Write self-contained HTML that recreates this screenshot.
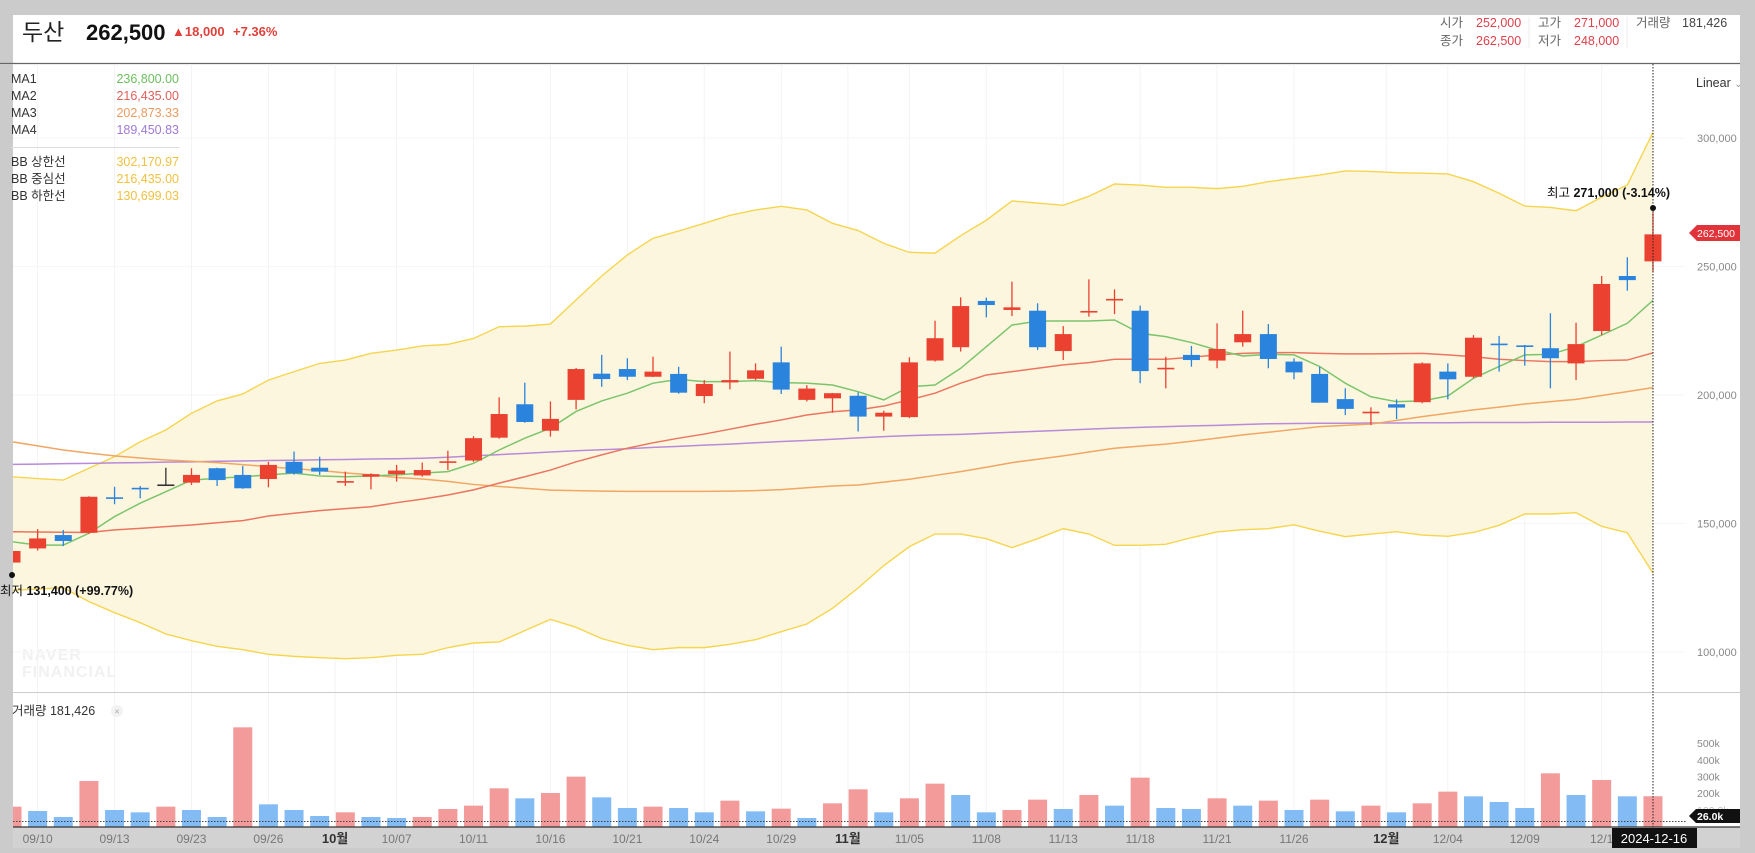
<!DOCTYPE html>
<html><head><meta charset="utf-8">
<style>
html,body{margin:0;padding:0;background:#cbcbcb;}
body{width:1755px;height:848px;overflow:hidden;font-family:"Liberation Sans","Noto Sans CJK KR",sans-serif;}
svg text{font-family:"Liberation Sans","Noto Sans CJK KR",sans-serif;}
</style></head>
<body>
<svg id="chart" width="1755" height="848" viewBox="0 0 1755 848" xmlns="http://www.w3.org/2000/svg">
<defs>
<clipPath id="pclip"><rect x="13" y="64" width="1672" height="628"/></clipPath>
<clipPath id="vclip"><rect x="13" y="693" width="1672" height="134"/></clipPath>
</defs>
<rect x="0" y="0" width="1755" height="848" fill="#cbcbcb"/>
<rect x="13" y="15" width="1727" height="48" fill="#ffffff"/>
<rect x="13" y="64" width="1727" height="763" fill="#ffffff"/>
<line x1="0" y1="63.5" x2="1755" y2="63.5" stroke="#666" stroke-width="1.2"/>
<rect x="13" y="827" width="1727" height="21" fill="#d2d2d2"/>
<rect x="0" y="64" width="13" height="784" fill="#cbcbcb"/>

<text x="22" y="40" font-size="23" fill="#222">두산</text>
<text x="86" y="40" font-size="22" font-weight="bold" fill="#111">262,500</text>
<text x="172" y="36" font-size="13" font-weight="bold" fill="#e0403a">▲18,000</text>
<text x="233" y="36" font-size="13" font-weight="bold" fill="#e0403a">+7.36%</text>

<g font-size="12.5">
<text x="1440" y="27" fill="#666">시가</text><text x="1476" y="27" fill="#e0404a">252,000</text>
<text x="1440" y="45" fill="#666">종가</text><text x="1476" y="45" fill="#e0404a">262,500</text>
<line x1="1529" y1="17" x2="1529" y2="48" stroke="#eee"/>
<text x="1538" y="27" fill="#666">고가</text><text x="1574" y="27" fill="#e0404a">271,000</text>
<text x="1538" y="45" fill="#666">저가</text><text x="1574" y="45" fill="#e0404a">248,000</text>
<line x1="1627" y1="17" x2="1627" y2="48" stroke="#eee"/>
<text x="1636" y="27" fill="#666">거래량</text><text x="1682" y="27" fill="#444">181,426</text>
</g>

<text x="1696" y="87" font-size="12.5" fill="#333">Linear <tspan fill="#999" font-size="10">⌄</tspan></text>
<text x="22" y="660" font-size="16" font-weight="bold" fill="#f1f1f1" letter-spacing="1">NAVER</text>
<text x="22" y="677" font-size="16" font-weight="bold" fill="#f1f1f1" letter-spacing="1">FINANCIAL</text>

<g id="grid"></g>
<g id="band" clip-path="url(#pclip)"></g>
<g id="mas" clip-path="url(#pclip)"></g>
<g id="candles" clip-path="url(#pclip)"></g>
<g id="vols" clip-path="url(#vclip)"></g>
<g id="axes"></g>

<g font-size="12.5">
<text x="11" y="83" fill="#333">MA1</text><text x="179" y="83" text-anchor="end" fill="#6cbf5c">236,800.00</text>
<text x="11" y="100" fill="#333">MA2</text><text x="179" y="100" text-anchor="end" fill="#e0605a">216,435.00</text>
<text x="11" y="117" fill="#333">MA3</text><text x="179" y="117" text-anchor="end" fill="#ec9a62">202,873.33</text>
<text x="11" y="134" fill="#333">MA4</text><text x="179" y="134" text-anchor="end" fill="#a07ad6">189,450.83</text>
<line x1="11" y1="147.5" x2="179" y2="147.5" stroke="#ddd"/>
<text x="11" y="166" fill="#333">BB 상한선</text><text x="179" y="166" text-anchor="end" fill="#f0c040">302,170.97</text>
<text x="11" y="183" fill="#333">BB 중심선</text><text x="179" y="183" text-anchor="end" fill="#f0c040">216,435.00</text>
<text x="11" y="200" fill="#333">BB 하한선</text><text x="179" y="200" text-anchor="end" fill="#f0c040">130,699.03</text>
</g>

<line x1="13" y1="692.5" x2="1740" y2="692.5" stroke="#ccc"/>
<line x1="13" y1="827" x2="1740" y2="827" stroke="#333" stroke-width="1.2"/>
<text x="12" y="715" font-size="12.5" fill="#333">거래량 181,426</text>
<circle cx="117" cy="711" r="6" fill="#f2f2f2"/>
<text x="117" y="714.5" font-size="9" fill="#aaa" text-anchor="middle">×</text>

<line x1="1653" y1="64" x2="1653" y2="827" stroke="#222" stroke-dasharray="1.5,1.5"/>
<line x1="13" y1="821.5" x2="1686" y2="821.5" stroke="#444" stroke-dasharray="1.5,1.5"/>

<g>
<circle cx="1653" cy="208" r="3" fill="#111"/>
<text x="1547" y="197" font-size="12.5" fill="#111">최고 <tspan font-weight="bold">271,000 (-3.14%)</tspan></text>
</g>
<g>
<circle cx="12" cy="575" r="3" fill="#111"/>
<text x="0" y="595" font-size="12.5" fill="#111">최저 <tspan font-weight="bold">131,400 (+99.77%)</tspan></text>
</g>

<g>
<polygon points="1689,233 1697,225 1744,225 1744,241 1697,241" fill="#e0343a"/>
<text x="1697" y="237" font-size="10.5" fill="#fff">262,500</text>
</g>
<g>
<polygon points="1689,816 1696,809 1744,809 1744,823 1696,823" fill="#111"/>
<text x="1697" y="820" font-size="10.5" font-weight="bold" fill="#fff">26.0k</text>
</g>
<g>
<rect x="1612" y="828" width="85" height="20" fill="#111"/>
<text x="1654" y="843" font-size="13" fill="#fff" text-anchor="middle">2024-12-16</text>
</g>
<rect x="1740" y="15" width="15" height="833" fill="#cbcbcb"/>
</svg>
<script>
const opens  =[134.8,140.3,145.5,146.4,160.2,163.9,165.2,165.9,171.5,168.9,167.3,174.0,171.7,166.1,168.2,169.2,168.7,173.8,174.5,183.4,196.4,186.1,198.1,208.3,210.1,207.1,208.2,199.6,204.9,206.3,212.7,198.1,198.7,199.7,191.6,191.4,213.4,218.6,236.6,233.1,232.8,217.1,232.3,237.0,232.8,210.2,215.6,213.4,220.5,223.7,213.0,208.2,198.4,193.1,196.4,197.2,209.1,207.1,220.0,219.3,218.2,212.3,224.9,246.3,252.0];
const closes =[139.3,144.2,143.2,160.4,159.8,163.5,165.2,168.9,166.9,163.7,172.8,169.5,170.2,166.5,169.2,170.6,170.8,174.2,183.2,192.6,189.5,190.7,210.1,206.2,207.1,209.1,200.9,204.3,205.8,209.6,202.1,202.5,200.7,191.6,193.1,212.7,222.1,234.6,235.0,234.1,218.6,223.7,232.7,237.4,209.3,210.6,213.6,217.9,223.7,214.0,208.8,197.0,194.6,193.5,195.1,212.3,206.1,222.3,219.6,218.9,214.3,219.8,243.2,244.7,262.5];
const highs  =[140.3,147.8,147.5,160.6,164.3,164.6,171.7,171.5,171.7,172.4,174.0,178.0,176.0,170.2,169.5,172.8,173.7,178.3,184.0,199.1,204.8,197.5,210.5,215.6,214.3,214.9,211.0,205.8,216.9,212.3,218.8,203.8,200.8,201.0,193.9,214.7,228.9,238.0,237.9,244.1,235.7,226.8,245.0,241.1,234.8,214.9,219.1,227.9,232.8,227.6,214.3,211.0,202.6,195.2,198.3,212.7,212.3,223.3,223.0,219.5,231.8,228.1,246.3,253.6,271.0];
const lows   =[131.4,139.5,141.2,146.0,157.5,159.8,165.0,165.0,164.6,163.5,164.1,169.0,168.9,164.6,163.3,166.3,168.2,170.8,174.0,183.0,189.2,183.8,194.4,203.2,205.8,207.0,200.5,196.8,202.2,205.8,200.4,197.5,193.1,185.8,186.1,191.0,213.0,216.9,230.2,230.7,217.5,213.6,230.5,231.5,204.6,202.6,211.0,210.4,218.8,210.4,206.1,197.0,192.2,188.3,190.6,196.8,198.3,206.5,209.1,211.4,202.6,205.8,223.3,240.6,248.0];
const volumes=[119,93,57,273,99,85,119,99,57,595,133,99,63,85,57,51,57,105,125,229,169,201,299,175,111,119,111,85,155,91,107,51,139,223,85,169,257,189,85,99,161,105,189,125,293,111,105,169,125,155,99,161,91,125,85,139,209,181,147,111,319,189,279,181,181.4];
const ma1=[142.9,141.6,141.6,146.2,152.7,157.9,162.4,166.9,167.6,168.2,168.9,169.6,168.5,168.2,168.5,168.9,169.6,170.2,173.4,178.6,183.2,187.1,193.6,197.7,200.7,204.6,206.1,205.2,205.2,205.6,204.8,204.6,203.9,201.3,198.1,203.2,203.9,210.4,218.8,227.2,228.8,228.8,228.8,229.2,224.0,222.7,220.4,217.5,215.2,215.8,215.6,211.1,204.6,199.3,197.4,197.7,199.6,206.5,211.1,215.6,215.8,218.8,223.3,227.9,236.8];
const ma2=[146.8,146.7,146.6,146.5,147.5,148.1,148.8,149.4,150.3,151.1,152.9,154.0,155.0,155.8,156.5,158.1,159.5,161.1,163.1,165.7,168.2,170.8,174.0,176.7,179.3,181.4,183.2,184.8,186.7,188.6,190.3,192.2,193.5,194.2,195.7,198.1,200.7,204.6,207.8,209.1,210.4,211.7,212.6,213.9,213.9,213.9,214.7,215.6,216.2,216.5,216.5,216.2,216.0,216.0,216.1,216.2,215.6,214.9,213.9,213.4,213.0,213.0,213.4,213.6,216.4];
const ma3=[181.8,180.2,178.6,177.4,176.3,175.5,174.7,174.2,173.7,172.9,172.1,171.3,170.6,169.7,168.9,167.9,167.3,166.4,165.2,164.4,163.7,163.0,162.8,162.6,162.5,162.5,162.5,162.5,162.6,162.8,163.2,163.9,164.6,165.0,166.1,167.2,168.7,170.2,171.9,173.7,175.0,176.3,177.8,179.3,180.1,180.9,182.0,183.2,184.5,185.5,186.6,187.7,188.2,188.7,190.1,191.6,192.9,194.2,195.3,196.5,197.4,198.3,199.8,201.3,202.9];
const ma4=[173.0,173.1,173.3,173.4,173.6,173.7,173.9,174.0,174.2,174.3,174.5,174.6,174.8,174.9,175.1,175.2,175.4,175.8,176.3,176.8,177.3,177.8,178.3,178.7,179.1,179.6,180.0,180.5,180.9,181.4,181.9,182.3,182.8,183.3,183.8,184.2,184.5,184.7,185.1,185.5,185.9,186.3,186.7,187.1,187.4,187.7,188.0,188.2,188.5,188.8,188.9,189.0,189.0,189.1,189.1,189.2,189.2,189.3,189.3,189.3,189.4,189.4,189.4,189.5,189.5];
const bbUpper=[168.2,167.5,166.9,171.5,176.0,181.8,186.4,192.9,197.7,200.4,205.8,209.1,212.3,213.6,216.2,217.5,219.1,219.7,222.0,226.6,226.8,227.6,237.0,246.3,254.5,261.0,263.8,266.8,269.9,272.0,273.4,272.0,266.8,264.0,259.0,255.5,255.2,262.0,268.0,275.5,274.7,273.8,277.3,282.1,281.7,280.8,280.8,280.3,281.2,283.0,284.3,285.6,287.2,287.0,286.5,286.3,286.0,283.0,278.5,273.5,273.0,271.7,277.0,281.7,302.2];
const bbLower=[124.0,124.5,125.0,119.6,115.3,111.4,107.0,104.4,102.2,100.9,99.1,98.3,97.8,97.4,97.8,98.7,99.1,101.7,103.5,103.9,108.3,112.7,109.6,105.2,102.6,100.9,101.7,101.7,103.0,104.8,107.9,110.9,117.0,124.9,133.6,141.0,145.9,145.9,144.1,140.6,144.1,148.0,145.9,141.5,141.5,141.9,144.5,146.7,147.6,148.0,149.5,147.0,144.9,145.9,146.8,145.5,145.0,146.5,149.3,153.7,153.7,154.2,148.9,146.4,130.7];
const xLabels=["09/10","09/13","09/23","09/26","10월","10/07","10/11","10/16","10/21","10/24","10/29","11월","11/05","11/08","11/13","11/18","11/21","11/26","12월","12/04","12/09","12/1"];
const xLabelIdx=[1,4,7,10,12.6,15,18,21,24,27,30,32.6,35,38,41,44,47,50,53.6,56,59,62];
const priceTicks=[300,250,200,150,100];
const volTicks=[500,400,300,200];

const NS="http://www.w3.org/2000/svg";
const X=i=>12+25.64*i;
const Y=p=>138+(300-p)*2.57;
const VY=v=>826.5-v*0.1667;
function mk(tag,attrs,parent){const e=document.createElementNS(NS,tag);for(const k in attrs)e.setAttribute(k,attrs[k]);parent.appendChild(e);return e;}
const grid=document.getElementById('grid'),band=document.getElementById('band'),mas=document.getElementById('mas'),cg=document.getElementById('candles'),vg=document.getElementById('vols'),ax=document.getElementById('axes');

xLabelIdx.forEach((idx,k)=>{
  const gl=mk('line',{x1:X(idx),x2:X(idx),y1:64,y2:827,stroke:'#f3f3f3'},grid);
  
  
  const month=xLabels[k].indexOf('월')>=0;
  const t=mk('text',{x:X(idx),y:843,'font-size':month?13:12,'text-anchor':'middle',fill:month?'#333':'#777','font-weight':month?'bold':'normal'},ax);
  t.textContent=xLabels[k];
  
  
});
priceTicks.forEach(p=>{
  const gl=mk('line',{x1:13,x2:1685,y1:Y(p),y2:Y(p),stroke:'#f6f6f6'},grid);
  
  
  const t=mk('text',{x:1697,y:Y(p)+4,'font-size':11,fill:'#888'},ax);
  t.textContent=(p*1000).toLocaleString('en-US');
  
  
});
volTicks.forEach(v=>{
  const t=mk('text',{x:1697,y:VY(v)+4,'font-size':10.5,fill:'#888'},ax);
  t.textContent=v+'k';
  
  
});
const vt=mk('text',{x:1697,y:VY(100)+4,'font-size':10.5,fill:'#bbb'},ax);
vt.textContent='100.0k';



const up=bbUpper.map((v,i)=>[X(i),Y(v)]), lo=bbLower.map((v,i)=>[X(i),Y(v)]);
up.unshift([0,Y(bbUpper[0])]); lo.unshift([0,Y(bbLower[0])]);
const fill=mk('path',{d:'M'+up.map(p=>p.join(',')).join('L')+'L'+lo.slice().reverse().map(p=>p.join(',')).join('L')+'Z',fill:'#fdf6df'},band);


[['bollinger-upper',up],['bollinger-lower',lo]].forEach(([n,pts])=>{
  const l=mk('polyline',{points:pts.map(p=>p.join(',')).join(' '),fill:'none',stroke:'#f6d54e','stroke-width':1.4},band);
  
  
});
[['ma4-line',ma4,'#b88ad8'],['ma3-line',ma3,'#f0a664'],['ma2-line',ma2,'#ea7560'],['ma1-line',ma1,'#7cc46c']].forEach(([n,arr,c])=>{
  const pts=arr.map((v,i)=>X(i)+','+Y(v)); pts.unshift('0,'+Y(arr[0]));
  const l=mk('polyline',{points:pts.join(' '),fill:'none',stroke:c,'stroke-width':1.5},mas);
  
  
});
opens.forEach((o,i)=>{
  const c=closes[i];
  const col=c>o?'#ea4130':(c<o?'#2a83dc':'#333');
  const g=mk('g',{},cg);
  
  
  mk('line',{x1:X(i),x2:X(i),y1:Y(highs[i]),y2:Y(lows[i]),stroke:col,'stroke-width':1.3},g);
  const top=Y(Math.max(o,c)),bot=Y(Math.min(o,c));
  mk('rect',{x:X(i)-8.5,y:top,width:17,height:Math.max(bot-top,1.6),fill:col},g);
});
volumes.forEach((v,i)=>{
  const upv=i===0?true:v>volumes[i-1];
  const r=mk('rect',{x:X(i)-9.5,y:VY(v),width:19,height:826.5-VY(v),fill:upv?'#f39a9a':'#83bcf4'},vg);
  
  
});
</script>
</body></html>
